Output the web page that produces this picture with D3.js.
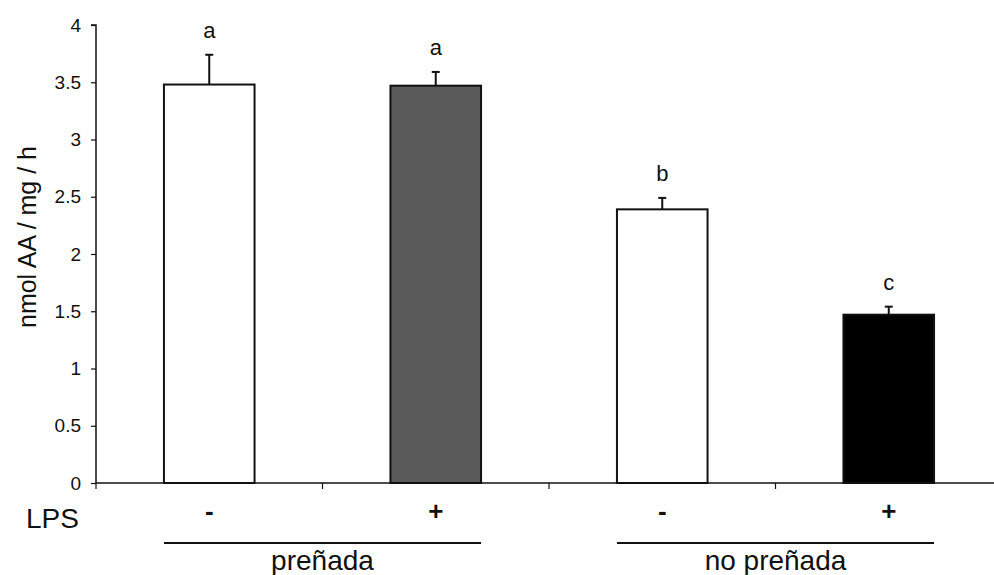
<!DOCTYPE html>
<html>
<head>
<meta charset="utf-8">
<script src="https://cdn.jsdelivr.net/npm/d3@7"></script>
<style>
  html, body { margin: 0; padding: 0; background: #fff; }
  svg { display: block; }
  text { font-family: "Liberation Sans", Arial, sans-serif; fill: #111; }
</style>
</head>
<body>
<svg id="chart" width="994" height="575"></svg>
<script>
// ---- data ----
const categories = ["preñada -", "preñada +", "no preñada -", "no preñada +"];
const values = [3.48, 3.47, 2.39, 1.47];
const errors = [0.26, 0.12, 0.10, 0.07];
const letters = ["a", "a", "b", "c"];
const lpsLabels = ["-", "+", "-", "+"];
const groups = ["preñada", "no preñada"];
const groupMembers = [[0, 1], [2, 3]];
const yTicks = [0, 0.5, 1, 1.5, 2, 2.5, 3, 3.5, 4];
const fills = ["#ffffff", "#595959", "#ffffff", "#000000"];

// ---- layout ----
const svg = d3.select("#chart");
const x0 = 96, y0 = 483, yTop = 25;
const step = 226.5;

const x = d3.scaleBand()
  .domain(categories)
  .range([x0, x0 + step * categories.length])
  .paddingInner(0.6)
  .paddingOuter(0.3);

const y = d3.scaleLinear().domain([0, 4]).range([y0, yTop]);
const bw = x.bandwidth();
const st = x.step();

// bars
svg.append("g").selectAll("rect")
  .data(categories)
  .join("rect")
  .attr("x", d => x(d))
  .attr("y", (d, i) => y(values[i]))
  .attr("width", bw)
  .attr("height", (d, i) => y0 - y(values[i]))
  .attr("fill", (d, i) => fills[i])
  .attr("stroke", "#111")
  .attr("stroke-width", 2);

// error bars (upper only)
const eg = svg.append("g").attr("stroke", "#111").attr("stroke-width", 2);
categories.forEach((c, i) => {
  const cx = x(c) + bw / 2;
  eg.append("line")
    .attr("x1", cx).attr("x2", cx)
    .attr("y1", y(values[i])).attr("y2", y(values[i] + errors[i]));
  eg.append("line")
    .attr("x1", cx - 4).attr("x2", cx + 4)
    .attr("y1", y(values[i] + errors[i])).attr("y2", y(values[i] + errors[i]));
});

// significance letters
svg.append("g").selectAll("text")
  .data(categories)
  .join("text")
  .attr("x", d => x(d) + bw / 2)
  .attr("y", (d, i) => y(values[i] + errors[i]) - 17)
  .attr("text-anchor", "middle")
  .style("font-size", "22px")
  .text((d, i) => letters[i]);

// y axis
const yAxis = d3.axisLeft(y)
  .tickValues(yTicks)
  .tickSize(5)
  .tickPadding(10)
  .tickFormat(d => String(d));
const ga = svg.append("g").attr("transform", `translate(${x0},0)`).call(yAxis);
ga.select(".domain").attr("stroke", "#111").attr("stroke-width", 1.5).attr("d", `M-5,${yTop}H0V${y0}`);
ga.selectAll(".tick line").attr("stroke", "#111").attr("stroke-width", 1.2);
ga.selectAll(".tick text").style("font-size", "19px").style("font-family", "Liberation Sans, Arial, sans-serif").attr("fill", "#222");

// x axis line + ticks at band boundaries
const xa = svg.append("g").attr("stroke", "#111");
xa.append("line").attr("x1", x0).attr("x2", x0 + st * categories.length)
  .attr("y1", y0).attr("y2", y0).attr("stroke-width", 1.5);
d3.range(categories.length + 1).forEach(i => {
  const bx = (i < categories.length) ? x(categories[i]) - st * x.paddingOuter() : x(categories[i - 1]) + bw + st * x.paddingOuter();
  xa.append("line").attr("x1", bx).attr("x2", bx).attr("y1", y0).attr("y2", y0 + 6).attr("stroke-width", 1.2);
});

// y axis title
svg.append("text")
  .attr("transform", `translate(36,${(y0 + yTop) / 2 - 17}) rotate(-90)`)
  .attr("text-anchor", "middle")
  .style("font-size", "25px")
  .text("nmol AA / mg / h");

// LPS row
svg.append("text").attr("x", 26).attr("y", 528).style("font-size", "28px").text("LPS");
svg.append("g").selectAll("text")
  .data(categories)
  .join("text")
  .attr("x", d => x(d) + bw / 2)
  .attr("y", 520)
  .attr("text-anchor", "middle")
  .style("font-size", "26px")
  .style("font-weight", "bold")
  .text((d, i) => lpsLabels[i]);

// group lines + labels
groups.forEach((g, gi) => {
  const [a, b] = groupMembers[gi];
  const xl = x(categories[a]), xr = x(categories[b]) + bw;
  svg.append("line").attr("x1", xl).attr("x2", xr).attr("y1", 543).attr("y2", 543)
    .attr("stroke", "#111").attr("stroke-width", 2);
  svg.append("text").attr("x", (xl + xr) / 2).attr("y", 570)
    .attr("text-anchor", "middle").style("font-size", "28px").text(g);
});
</script>
</body>
</html>
